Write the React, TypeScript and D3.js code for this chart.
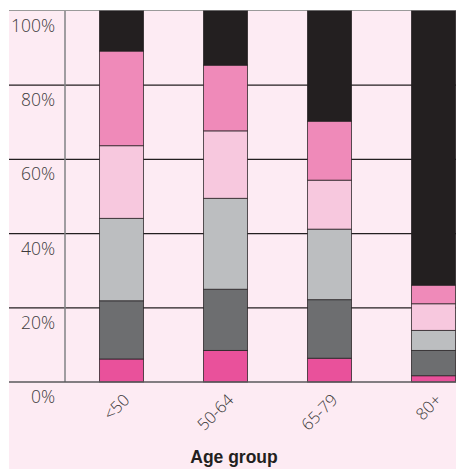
import React from "react";
import * as d3 from "d3";

const categories = ["<50", "50-64", "65-79", "80+"];
const seriesKeys = ["s1", "s2", "s3", "s4", "s5", "s6"];
const s1 = [6.2, 8.5, 6.4, 1.7];
const s2 = [15.7, 16.5, 15.8, 6.8];
const s3 = [22.2, 24.5, 19.0, 5.4];
const s4 = [19.6, 18.2, 13.2, 7.2];
const s5 = [25.5, 17.7, 15.9, 5.0];
const s6 = [10.8, 14.6, 29.7, 73.9];
const colors = ["#e9519b", "#6d6e70", "#bcbec0", "#f7c8de", "#ef8ab9", "#231f20"];
const yTicks = [0, 20, 40, 60, 80, 100];
const xTitle = "Age group";

export default function App() {
  const W = 456, H = 469;
  const rows = categories.map((c, i) => ({
    cat: c, s1: s1[i], s2: s2[i], s3: s3[i], s4: s4[i], s5: s5[i], s6: s6[i],
  }));
  const stack = d3.stack<any>().keys(seriesKeys)(rows);
  const y = d3.scaleLinear().domain([0, 100]).range([382, 11]);
  const x = d3.scaleBand().domain(categories).range([69.5, 485.5]).paddingInner(0.577).paddingOuter(0.2885);
  const textColor = "#3d3b3c";
  return (
    <svg width={W} height={H} style={{ position: "absolute", left: 0, top: 0 }}>
      <rect x={9} y={11} width={W - 9} height={H - 11} fill="#fdebf3" />
      <line x1={9} x2={W} y1={10.5} y2={10.5} stroke="#9a9a9a" strokeWidth={1} />
      {yTicks.filter((t) => t > 0 && t < 100).map((t) => (
        <line key={t} x1={9} x2={W} y1={y(t)} y2={y(t)} stroke="#231f20" strokeWidth={1.2} />
      ))}
      <line x1={65} x2={65} y1={11} y2={382} stroke="#808285" strokeWidth={1.5} />
      {stack.map((layer, li) =>
        layer.map((d, i) => (
          <rect
            key={li + "-" + i}
            x={x(categories[i])!}
            y={y(d[1])}
            width={x.bandwidth()}
            height={y(d[0]) - y(d[1])}
            fill={colors[li]}
            stroke="#231f20"
            strokeOpacity={0.75}
            strokeWidth={1}
          />
        ))
      )}
      <line x1={9} x2={W} y1={382} y2={382} stroke="#58595b" strokeWidth={1.5} />
      {yTicks.map((t) => (
        <text key={t} x={55} y={y(t) + 21} textAnchor="end" fontFamily="'Open Sans', 'Noto Sans', sans-serif" fontWeight={300} fontSize={17.5} fill={textColor}>
          {t}%
        </text>
      ))}
      {categories.map((c) => (
        <text
          key={c}
          transform={`translate(${x(c)! + x.bandwidth() / 2 - 1},${391}) rotate(-45)`}
          textAnchor="end"
          dominantBaseline="hanging"
          fontFamily="'Open Sans', 'Noto Sans', sans-serif"
          fontWeight={300}
          fontSize={16.5}
          fill={textColor}
        >
          {c}
        </text>
      ))}
      <text x={234} y={463} textAnchor="middle" fontFamily="'Liberation Sans', Arial, sans-serif" fontWeight="bold" fontSize={17.5} fill="#231f20">
        {xTitle}
      </text>
    </svg>
  );
}
